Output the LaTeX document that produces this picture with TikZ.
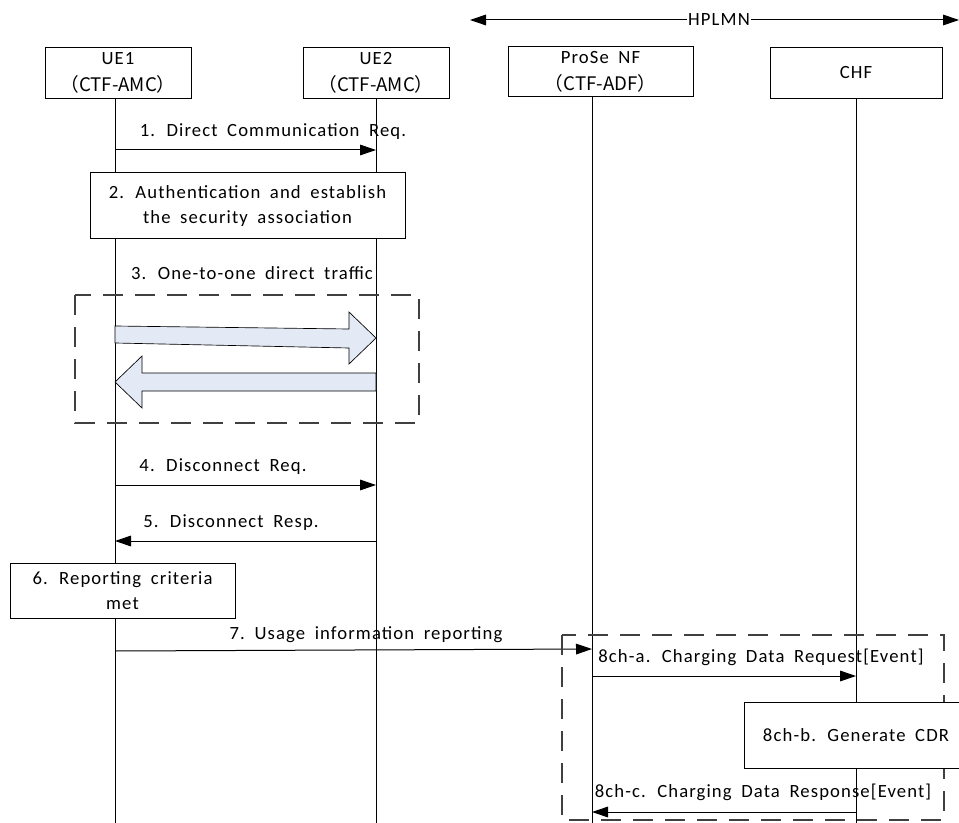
\documentclass[tikz,border=0pt]{standalone}
\usepackage{fontspec}
\setmainfont{Carlito}[LetterSpace=6, WordSpace=1.8]
\newfontfamily\cjk{Noto Sans CJK SC}
\usepackage{tikz}
\usetikzlibrary{arrows.meta}

\definecolor{trafficfill}{HTML}{E3EAF6}
\definecolor{grpline}{HTML}{404040}

\begin{document}
\begin{tikzpicture}[x=0.75pt, y=-0.75pt,
  ent/.style={draw, line width=0.75pt, minimum width=#1, minimum height=38pt, align=center, inner sep=1pt, font=\fontsize{14}{20.5}\selectfont},
  act/.style={draw, fill=white, line width=0.75pt, minimum width=#1, align=center, inner sep=1pt, font=\fontsize{14}{18.5}\selectfont},
  lab/.style={inner sep=0pt, font=\fontsize{14}{16}\selectfont},
  msg/.style={-{Triangle[length=12pt, width=8pt]}, line width=0.75pt},
  life/.style={line width=0.75pt},
  grp/.style={draw=grpline, line width=1pt, dash pattern=on 15pt off 9pt},
  fat/.style={draw, line width=0.5pt, fill=trafficfill}
]
\useasboundingbox (0,0) rectangle (959,823);

% Entities
\node[ent=109.5pt] (ue1) at (118,73) {UE1\\\cjk{（}CTF-AMC\cjk{）}};
\node[ent=109.5pt] (ue2) at (376,73) {UE2\\\cjk{（}CTF-AMC\cjk{）}};
\node[ent=138.75pt, minimum height=37.5pt] (prose) at (600.5,72) {ProSe NF\\\cjk{（}CTF-ADF\cjk{）}};
\node[ent=129pt] (chf) at (856,73) {CHF};

% HPLMN span
\coordinate (hl) at (470,20);
\coordinate (hr) at (959,20);
\node[lab, fill=white, inner xsep=1pt] (hplmn) at (719,20) {HPLMN};
\draw[msg] (hplmn.west) -- (hl);
\draw[msg] (hplmn.east) -- (hr);

% Lifelines
\coordinate (ue1top) at (115,99);
\coordinate (ue2top) at (376,99);
\coordinate (prosetop) at (592,97);
\coordinate (chftop) at (856,99);
\draw[life] (ue1top) -- (ue1top |- 0,823);
\draw[life] (ue2top) -- (ue2top |- 0,823);
\draw[life] (prosetop) -- (prosetop |- 0,823);
\draw[life] (chftop) -- (chftop |- 0,823);

% 1-2
\draw[msg] (ue1top |- 0,150) -- (ue2top |- 0,150);
\node[lab] (m1) at (273,132) {1. Direct Communication Req.};
\node[act=236.25pt, minimum height=49.5pt] (auth) at (247.5,206) {2. Authentication and establish\\the security association};

% 3 - one-to-one traffic
\node[lab] (m3) at (252,273) {3. One-to-one direct traffic};
\draw[grp] (75,295) rectangle (419,423);
\draw[fat] (115,326) -- (349,329) -- (349,312) -- (376,338) -- (349,364) -- (349,348) -- (115,343) -- cycle;
\draw[fat] (376,373) -- (142,373) -- (142,356) -- (115,382) -- (142,408) -- (142,391) -- (376,391) -- cycle;

% 4-5
\draw[msg] (ue1top |- 0,485) -- (ue2top |- 0,485);
\node[lab] (m4) at (223,467) {4. Disconnect Req.};
\draw[msg] (ue2top |- 0,541) -- (ue1top |- 0,541);
\node[lab] (m5) at (231,523) {5. Disconnect Resp.};

% 6-7
\node[act=168.75pt, minimum height=41.25pt] (crit) at (122.5,590.5) {6. Reporting criteria\\met};
\draw[msg] (ue1top |- 0,651) -- (prosetop |- 0,649);
\node[lab] (m7) at (366,635) {7.\ Usage information reporting};

% 8 - charging
\draw[grp] (562,635) rectangle (944,820);
\draw[msg] (prosetop |- 0,676) -- (chftop |- 0,676);
\node[lab] (m8a) at (761,657) {8ch-a. Charging Data Request[Event]};
\node[act=168pt, minimum height=49.5pt] (cdr) at (856,735) {8ch-b. Generate CDR};
\draw[msg] (chftop |- 0,812) -- (prosetop |- 0,812);
\node[lab] (m8c) at (763,792) {8ch-c. Charging Data Response[Event]};

\end{tikzpicture}
\end{document}
